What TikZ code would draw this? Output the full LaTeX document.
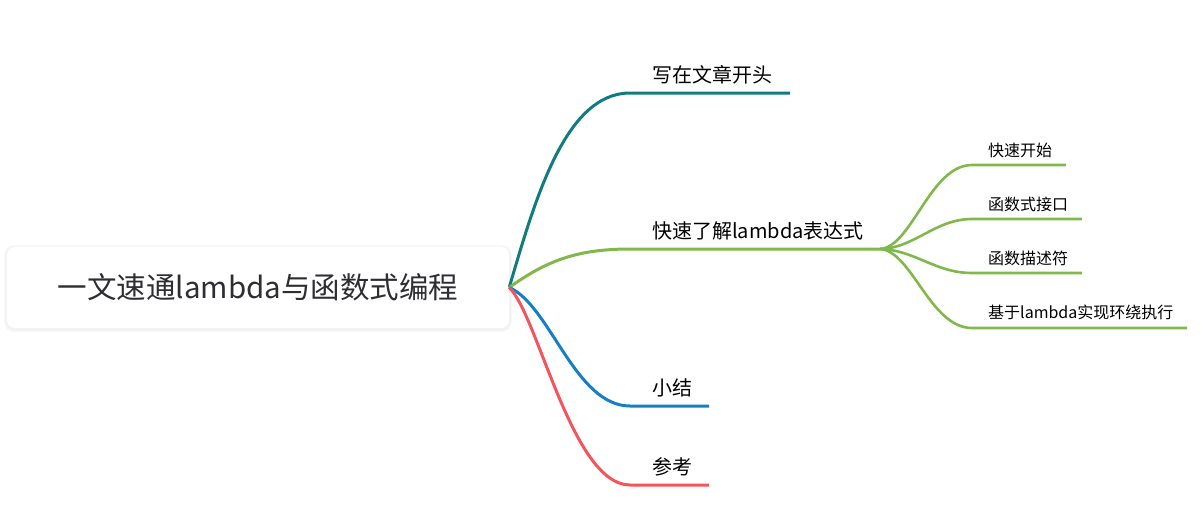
\documentclass[tikz,border=0pt]{standalone}
\usepackage{fontspec}
\setmainfont{Noto Sans CJK SC}
\definecolor{cteal}{RGB}{16,124,126}
\definecolor{cgreen}{RGB}{128,184,76}
\definecolor{cblue}{RGB}{22,126,196}
\definecolor{cred}{RGB}{246,84,92}
\definecolor{ctext}{RGB}{45,45,50}
\begin{document}
\begin{tikzpicture}[x=1pt,y=-1pt,
  br/.style={line width=3pt},
  sbr/.style={line width=2.6pt, cgreen},
  lab/.style={anchor=west, inner sep=0pt, font=\fontsize{20}{24}\selectfont},
  sublab/.style={anchor=west, inner sep=0pt, font=\fontsize{16}{19}\selectfont},
  rootbox/.style={fill=white, rounded corners=8pt, minimum width=502pt, minimum height=81pt, inner sep=0pt, text=ctext, font=\fontsize{29.5}{35}\selectfont}]
\useasboundingbox (0,0) rectangle (1202,519);
% shadow of root
\fill[black!3, rounded corners=10pt] (4,245) rectangle (512,332);
\fill[black!5, rounded corners=9pt] (5.5,247) rectangle (510.5,330.5);
\node[rootbox] (root) at (258,287.5) {一文速通lambda与函数式编程};
\coordinate (o) at (root.east);
% main branch coordinates
\coordinate (t1) at (630,93);  \coordinate (e1) at (790,93);
\coordinate (t2) at (630,249); \coordinate (e2) at (880,249);
\coordinate (t3) at (630,406); \coordinate (e3) at (709,406);
\coordinate (t4) at (630,485); \coordinate (e4) at (709,485);
% labels
\node[lab] (l1) at (652,75) {写在文章开头};
\node[lab] (l2) at (652,231) {快速了解lambda表达式};
\node[lab] (l3) at (652,388) {小结};
\node[lab] (l4) at (652,467) {参考};
% branches
\draw[br, cteal] (o) .. controls (535,200) and (565,93) .. (t1) -- (e1);
\draw[br, cgreen] (o) .. controls (545,262) and (575,249) .. (t2) -- (e2);
\draw[br, cblue] (o) .. controls (550,305) and (575,406) .. (t3) -- (e3);
\draw[br, cred] (o) .. controls (538,315) and (572,485) .. (t4) -- (e4);
% sub branches
\coordinate (s1) at (972,165); \coordinate (f1) at (1066,165);
\coordinate (s2) at (972,219); \coordinate (f2) at (1082,219);
\coordinate (s3) at (972,273); \coordinate (f3) at (1082,273);
\coordinate (s4) at (972,328); \coordinate (f4) at (1187,328);
\draw[sbr] (e2) .. controls (912,247) and (930,165) .. (s1) -- (f1);
\draw[sbr] (e2) .. controls (915,248) and (935,219) .. (s2) -- (f2);
\draw[sbr] (e2) .. controls (915,250) and (935,273) .. (s3) -- (f3);
\draw[sbr] (e2) .. controls (912,251) and (930,328) .. (s4) -- (f4);
\node[sublab] (m1) at (988,150) {快速开始};
\node[sublab] (m2) at (988,204) {函数式接口};
\node[sublab] (m3) at (988,258) {函数描述符};
\node[sublab] (m4) at (988,312) {基于lambda实现环绕执行};
\end{tikzpicture}
\end{document}
